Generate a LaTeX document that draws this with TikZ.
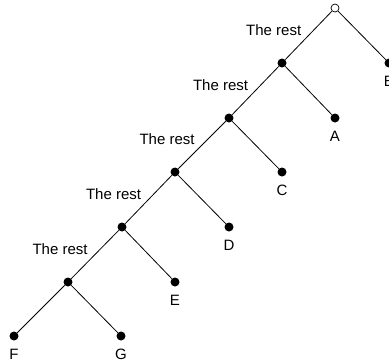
\documentclass[tikz,border=0pt]{standalone}
\usepackage{fontspec}
\setmainfont{Liberation Sans}
\usepackage{tikz}
\usetikzlibrary{positioning}

\begin{document}
\begin{tikzpicture}[x=1pt, y=-1pt, font=\fontsize{15}{18}\selectfont,
  dot/.style={circle, fill, inner sep=0pt, minimum size=9pt},
  opendot/.style={circle, draw, fill=white, inner sep=0pt, minimum size=8pt, line width=0.7pt},
  leaf/.style={dot, label={[inner sep=0pt, label distance=8pt]below:#1}},
  rest/.style={midway, anchor=east, inner sep=0pt, xshift=-7pt, yshift=5.5pt},
  edge/.style={line width=0.8pt}]
\useasboundingbox (0,0) rectangle (389,362);
% chain of "the rest" nodes
\node[opendot] (top) at (335,8) {};
\node[dot] (r1) at (282,63) {};
\node[dot] (r2) at (229,118) {};
\node[dot] (r3) at (175,172) {};
\node[dot] (r4) at (122,227) {};
\node[dot] (r5) at (68,282) {};
% leaves
\node[leaf=B] (B) at (389,63) {};
\node[leaf=A] (A) at (335,118) {};
\node[leaf=C] (C) at (282,172) {};
\node[leaf=D] (D) at (229,227) {};
\node[leaf=E] (E) at (175,282) {};
\node[leaf=F] (F) at (14,336) {};
\node[leaf=G] (G) at (121,336) {};
% edges
\draw[edge] (top) -- node[rest] {The rest} (r1);
\draw[edge] (r1) -- node[rest] {The rest} (r2);
\draw[edge] (r2) -- node[rest] {The rest} (r3);
\draw[edge] (r3) -- node[rest] {The rest} (r4);
\draw[edge] (r4) -- node[rest] {The rest} (r5);
\draw[edge] (top) -- (B);
\draw[edge] (r1) -- (A);
\draw[edge] (r2) -- (C);
\draw[edge] (r3) -- (D);
\draw[edge] (r4) -- (E);
\draw[edge] (r5) -- (F);
\draw[edge] (r5) -- (G);
\end{tikzpicture}
\end{document}
